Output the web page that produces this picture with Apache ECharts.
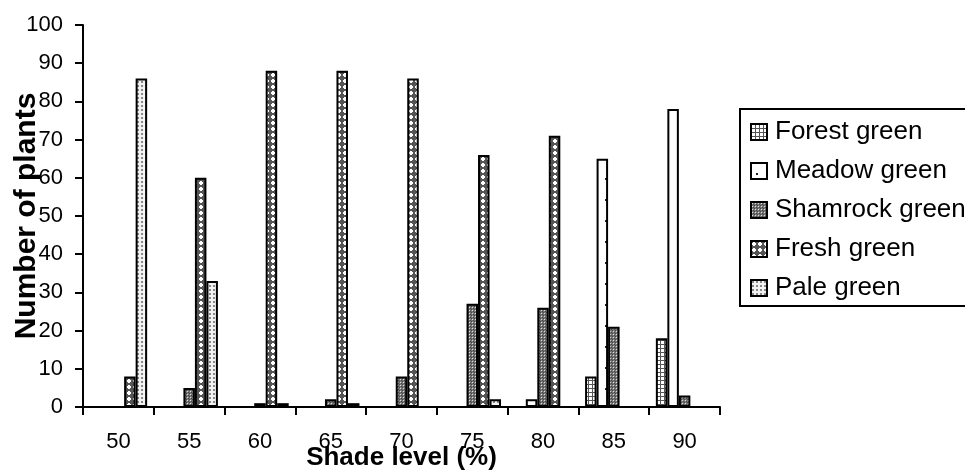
<!DOCTYPE html>
<html>
<head>
<meta charset="utf-8">
<script src="https://cdn.jsdelivr.net/npm/echarts@6/dist/echarts.min.js"></script>
<style>html,body{margin:0;padding:0;background:#fff;}#c{width:965px;height:471px;}</style>
</head>
<body>
<div id="c"></div>
<script>
const categories = ['50', '55', '60', '65', '70', '75', '80', '85', '90'];
const seriesNames = ['Forest green', 'Meadow green', 'Shamrock green', 'Fresh green', 'Pale green'];
const forestGreen   = [0, 0, 0, 0, 0, 0, 0, 8, 18];
const meadowGreen   = [0, 0, 0, 0, 0, 0, 2, 65, 78];
const shamrockGreen = [0, 5, 1, 2, 8, 27, 26, 21, 3];
const freshGreen    = [8, 60, 88, 88, 86, 66, 71, 0, 0];
const paleGreen     = [86, 33, 1, 1, 0, 2, 0, 0, 0];
const yTicks = [0, 10, 20, 30, 40, 50, 60, 70, 80, 90, 100];

function tile(w, h, draw) {
  const c = document.createElement('canvas');
  c.width = w; c.height = h;
  const g = c.getContext('2d');
  draw(g);
  return { image: c, repeat: 'repeat' };
}
const patForest = tile(4, 4, g => { g.fillStyle = '#fff'; g.fillRect(0,0,4,4); g.fillStyle = '#555'; g.fillRect(0,0,4,1); g.fillRect(0,0,1,4); });
const patMeadow = tile(12, 21, g => { g.fillStyle = '#fff'; g.fillRect(0,0,12,21); g.fillStyle = '#222'; g.fillRect(5,10,2,2); });
const patShamrock = tile(3, 3, g => { g.fillStyle = '#777'; g.fillRect(0,0,3,3); g.fillStyle = '#444'; g.fillRect(0,0,1,1); g.fillRect(2,2,1,1); g.fillStyle = '#ddd'; g.fillRect(1,1,1,1); });
const patFresh = tile(6, 6, g => { g.fillStyle = '#555'; g.fillRect(0,0,6,6); g.fillStyle = '#fff'; g.fillRect(2,1,2,4); g.fillRect(1,2,4,2); });
const patPale = tile(4, 4, g => { g.fillStyle = '#f2f2f2'; g.fillRect(0,0,4,4); g.fillStyle = '#888'; g.fillRect(1,1,2,2); });

const patterns = [patForest, patMeadow, patShamrock, patFresh, patPale];
const values = [forestGreen, meadowGreen, shamrockGreen, freshGreen, paleGreen];

const FONT = 'Liberation Sans';
const chart = echarts.init(document.getElementById('c'), null, { renderer: 'canvas' });
chart.setOption({
  animation: false,
  backgroundColor: '#fff',
  grid: { left: 83, right: 245, top: 25, bottom: 64, containLabel: false, outerBoundsMode: 'none' },
  legend: {
    orient: 'vertical',
    left: 740, top: 109,
    padding: [10, 10, 5, 10],
    itemGap: 13,
    itemWidth: 16, itemHeight: 16,
    borderColor: '#000', borderWidth: 2,
    icon: 'rect',
    textStyle: { fontFamily: FONT, fontSize: 26, color: '#000', padding: [0, 0, 0, 3] },
    data: seriesNames
  },
  xAxis: {
    type: 'category',
    data: categories,
    name: 'Shade level (%)',
    nameLocation: 'middle',
    nameGap: 38,
    nameMoveOverlap: false,
    nameTextStyle: { fontFamily: FONT, fontSize: 26, fontWeight: 'bold', color: '#000' },
    axisLine: { lineStyle: { color: '#000', width: 2 } },
    axisTick: { show: true, length: 8, lineStyle: { color: '#000', width: 2 } },
    axisLabel: { fontFamily: FONT, fontSize: 22, color: '#000', margin: 24 },
    splitLine: { show: false }
  },
  yAxis: {
    type: 'value',
    min: 0, max: 100, interval: 10,
    name: 'Number of plants',
    nameLocation: 'middle',
    nameGap: 41,
    nameMoveOverlap: false,
    nameTextStyle: { fontFamily: FONT, fontSize: 30, fontWeight: 'bold', color: '#000' },
    axisLine: { show: true, lineStyle: { color: '#000', width: 2 } },
    axisTick: { show: true, length: 8, lineStyle: { color: '#000', width: 2 } },
    axisLabel: { fontFamily: FONT, fontSize: 22, color: '#000', margin: 20,
      formatter: v => yTicks.includes(v) ? String(v) : '' },
    splitLine: { show: false }
  },
  series: seriesNames.map((name, i) => ({
    name: name,
    type: 'bar',
    data: values[i],
    barWidth: 11.5,
    barGap: '0%',
    itemStyle: { color: patterns[i], borderColor: '#000', borderWidth: 2 },
    emphasis: { disabled: true }
  }))
});
</script>
</body>
</html>
